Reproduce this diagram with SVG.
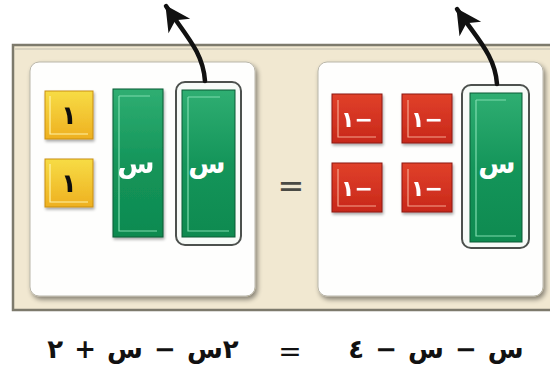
<svg xmlns="http://www.w3.org/2000/svg" width="550" height="377" viewBox="0 0 550 377">
<style>
.frame{fill:#f1e8d1;stroke:#7d7a6c;stroke-width:2.5}
.panel{fill:#fefefd;stroke:#b9b6aa;stroke-width:1}
.yellow{fill:url(#gy);stroke:#c98f10;stroke-width:1}
.red{fill:url(#gr);stroke:#8e1a0e;stroke-width:1}
.green{fill:url(#gg);stroke:#0b5a35;stroke-width:1}
.hl{fill:none;stroke-width:1.2}
.outline{fill:#f7fbf8;stroke:#4d514e;stroke-width:2}
.lbl{font-family:"DejaVu Sans",sans-serif;font-weight:bold;text-anchor:middle;direction:rtl;unicode-bidi:bidi-override}
.eq{font-family:"DejaVu Sans",sans-serif;font-weight:bold;text-anchor:middle;font-size:26px;fill:#111;direction:rtl;unicode-bidi:bidi-override}
.conn{fill:none;stroke:#111;stroke-width:4.5;stroke-linecap:round}
</style>
<defs>
<linearGradient id="gy" x1="0" y1="0" x2="0" y2="1"><stop offset="0" stop-color="#f7dc45"/><stop offset="1" stop-color="#eeb020"/></linearGradient>
<linearGradient id="gr" x1="0" y1="0" x2="0" y2="1"><stop offset="0" stop-color="#e0402a"/><stop offset="1" stop-color="#c8281a"/></linearGradient>
<linearGradient id="gg" x1="0" y1="0" x2="0" y2="1"><stop offset="0" stop-color="#2fae72"/><stop offset="0.5" stop-color="#14955a"/><stop offset="1" stop-color="#0e8a50"/></linearGradient>
<linearGradient id="gf" x1="0" y1="0" x2="0" y2="1"><stop offset="0" stop-color="#efe5cc"/><stop offset="1" stop-color="#f4ecd9"/></linearGradient>
<filter id="sh" x="-10%" y="-10%" width="130%" height="130%"><feGaussianBlur in="SourceAlpha" stdDeviation="2.5"/><feOffset dx="2" dy="3" result="b"/><feComponentTransfer><feFuncA type="linear" slope="0.45"/></feComponentTransfer><feMerge><feMergeNode/><feMergeNode in="SourceGraphic"/></feMerge></filter>
<filter id="ts" x="-20%" y="-20%" width="150%" height="150%"><feGaussianBlur in="SourceAlpha" stdDeviation="1.5"/><feOffset dx="1" dy="2"/><feComponentTransfer><feFuncA type="linear" slope="0.35"/></feComponentTransfer><feMerge><feMergeNode/><feMergeNode in="SourceGraphic"/></feMerge></filter>
<marker id="ah" viewBox="-26 -14 28 28" refX="0" refY="0" markerWidth="28" markerHeight="28" markerUnits="userSpaceOnUse" orient="auto"><path d="M1,0 L-24,-13 L-17,0 L-24,13 Z" fill="#111"/></marker>
</defs>
<rect width="550" height="377" fill="#ffffff"/>
<g id="frame">
<rect class="frame" x="13" y="45" width="560" height="265" fill="url(#gf)"/>
<line x1="15" y1="49" x2="550" y2="49" stroke="#d8d2bf" stroke-width="2"/>
</g>
<g id="left-panel">
<rect class="panel" x="30" y="62" width="225" height="234" rx="9" filter="url(#sh)"/>
</g>
<g id="right-panel">
<rect class="panel" x="318" y="62" width="225" height="234" rx="9" filter="url(#sh)"/>
</g>
<g id="tile-yellow-1" filter="url(#ts)">
<rect class="yellow" x="45" y="91" width="48" height="48"/>
<path class="hl" d="M50,96 V134 H88" stroke="#fff3a8"/>
<text class="lbl" x="69" y="124" font-size="26" fill="#111">١</text>
</g>
<g id="tile-yellow-2" filter="url(#ts)">
<rect class="yellow" x="45" y="159" width="48" height="48"/>
<path class="hl" d="M50,164 V202 H88" stroke="#fff3a8"/>
<text class="lbl" x="69" y="192" font-size="26" fill="#111">١</text>
</g>
<g id="tile-green-1" filter="url(#ts)">
<rect class="green" x="113" y="89" width="50" height="148"/>
<path class="hl" d="M119,96 V231 H157 M119,96 H150" stroke="#7fdcae"/>
<text class="lbl" x="136" y="173" font-size="27" fill="#ffffff">س</text>
</g>
<g id="tile-green-2">
<rect class="outline" x="176" y="82" width="65" height="163" rx="9"/>
<rect class="green" x="182" y="90" width="53" height="147"/>
<path class="hl" d="M188,97 V231 H229 M188,97 H220" stroke="#7fdcae"/>
<text class="lbl" x="207" y="173" font-size="27" fill="#ffffff">س</text>
</g>
<g id="equals-mid">
<text x="291" y="197" font-family="DejaVu Sans, sans-serif" font-size="32" text-anchor="middle" fill="#4a4a44">=</text>
</g>
<g id="tile-red-1" filter="url(#ts)">
<rect class="red" x="332" y="94" width="50" height="49"/>
<path class="hl" d="M338,100 V137 H376" stroke="#f6a58e"/>
<text class="lbl" x="357" y="127" font-size="22" fill="#ffffff">−١</text>
</g>
<g id="tile-red-2" filter="url(#ts)">
<rect class="red" x="402" y="94" width="50" height="49"/>
<path class="hl" d="M408,100 V137 H446" stroke="#f6a58e"/>
<text class="lbl" x="427" y="127" font-size="22" fill="#ffffff">−١</text>
</g>
<g id="tile-red-3" filter="url(#ts)">
<rect class="red" x="332" y="163" width="50" height="49"/>
<path class="hl" d="M338,169 V206 H376" stroke="#f6a58e"/>
<text class="lbl" x="357" y="196" font-size="22" fill="#ffffff">−١</text>
</g>
<g id="tile-red-4" filter="url(#ts)">
<rect class="red" x="402" y="163" width="50" height="49"/>
<path class="hl" d="M408,169 V206 H446" stroke="#f6a58e"/>
<text class="lbl" x="427" y="196" font-size="22" fill="#ffffff">−١</text>
</g>
<g id="tile-green-3">
<rect class="outline" x="462" y="85" width="67" height="163" rx="9"/>
<rect class="green" x="470" y="93" width="52" height="149"/>
<path class="hl" d="M476,100 V236 H516 M476,100 H506" stroke="#7fdcae"/>
<text class="lbl" x="497" y="173" font-size="27" fill="#ffffff">س</text>
</g>
<g id="connectors">
<path class="conn" d="M205,81 C203,52 186,36 166,6" marker-end="url(#ah)"/>
<path class="conn" d="M497,84 C495,55 477,39 457,9" marker-end="url(#ah)"/>
</g>
<g id="equation">
<text class="eq" x="143" y="358" word-spacing="2">٢س − س + ٢</text>
<text x="290" y="361" font-family="DejaVu Sans, sans-serif" font-size="28" text-anchor="middle" fill="#111">=</text>
<text class="eq" x="436" y="358" word-spacing="2">س − س − ٤</text>
</g>
</svg>
